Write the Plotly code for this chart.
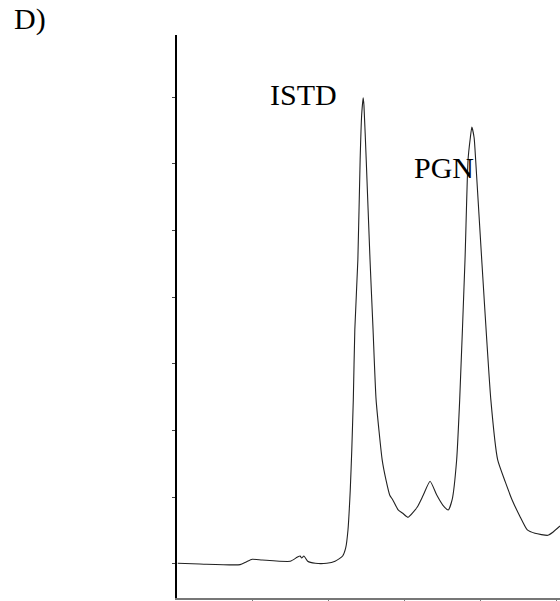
import plotly.graph_objects as go

# Chromatogram trace: retention time (min) vs detector signal (arbitrary units)
time_min = [0.01, 0.30, 0.83, 0.91, 0.99, 1.12, 1.49, 1.58, 1.62, 1.64, 1.67, 1.72,
            1.82, 1.97, 2.08, 2.18, 2.22, 2.25, 2.28, 2.30, 2.32, 2.34, 2.38, 2.41,
            2.43, 2.45, 2.46, 2.49, 2.54, 2.58, 2.62, 2.70, 2.75, 2.80, 2.84, 2.91,
            2.97, 3.04, 3.16, 3.24, 3.33, 3.42, 3.50, 3.57, 3.62, 3.68, 3.72, 3.79,
            3.83, 3.86, 3.88, 3.91, 3.93, 4.01, 4.13, 4.22, 4.32, 4.41, 4.51, 4.61,
            4.71, 4.88, 4.95, 5.04]
signal = [0.01, 0.00, -0.01, 0.03, 0.07, 0.06, 0.04, 0.10, 0.12, 0.09, 0.12, 0.04,
          0.01, 0.01, 0.04, 0.12, 0.24, 0.51, 1.11, 1.71, 2.46, 3.51, 4.56, 6.06,
          6.73, 6.99, 6.88, 6.06, 4.56, 3.51, 2.46, 1.56, 1.26, 1.03, 0.96, 0.81,
          0.76, 0.70, 0.85, 1.03, 1.24, 1.03, 0.88, 0.81, 0.96, 1.56, 2.46, 4.56,
          6.06, 6.39, 6.55, 6.39, 6.06, 4.56, 2.46, 1.56, 1.23, 0.96, 0.72, 0.51,
          0.46, 0.43, 0.48, 0.57]

# Peak labels (name, time, signal position of the label)
peak_names = ["ISTD", "PGN"]
peak_label_t = [1.66, 3.51]
peak_label_y = [7.04, 5.95]

panel_label = "D)"

serif = "Liberation Serif, Times New Roman, serif"

fig = go.Figure()
fig.add_trace(go.Scatter(
    x=time_min, y=signal, mode="lines",
    line=dict(color="#222222", width=1.1, shape="spline", smoothing=0.5),
    hoverinfo="skip", showlegend=False,
))

for name, tx, ty in zip(peak_names, peak_label_t, peak_label_y):
    fig.add_annotation(x=tx, y=ty, text=name, showarrow=False,
                       font=dict(family=serif, size=30, color="black"),
                       xanchor="center", yanchor="middle")

fig.add_annotation(xref="paper", yref="paper", x=-0.385, y=1.029,
                   text=panel_label, showarrow=False,
                   font=dict(family=serif, size=30, color="black"),
                   xanchor="center", yanchor="middle")

fig.update_layout(
    width=560, height=601,
    margin=dict(l=177, r=0, t=35, b=3),
    paper_bgcolor="white", plot_bgcolor="white",
    xaxis=dict(range=[0, 5.04], showgrid=False, zeroline=False,
               showline=True, linecolor="#777777", linewidth=1.5,
               ticks="outside", ticklen=2, tickcolor="#777777",
               tickvals=[1, 2, 3, 4, 5], showticklabels=False),
    yaxis=dict(range=[-0.51, 7.93], showgrid=False, zeroline=False,
               showline=True, linecolor="black", linewidth=2,
               ticks="outside", ticklen=3, tickcolor="#444444",
               tickvals=[0, 1, 2, 3, 4, 5, 6, 7], showticklabels=False),
)

fig.write_html("out.html")
